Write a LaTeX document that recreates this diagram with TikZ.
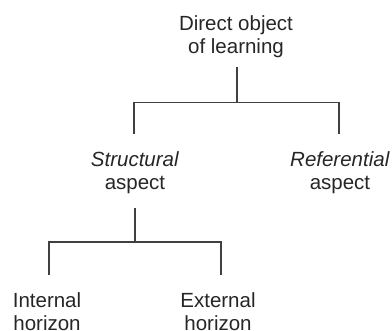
\documentclass[tikz,border=0pt]{standalone}
\usepackage{fontspec}
\setmainfont{Liberation Sans}
\begin{document}
\begin{tikzpicture}[x=1pt,y=-1pt,
  lbl/.style={align=center,anchor=base,inner sep=0pt,font=\fontsize{20.5}{23}\selectfont,text=black!85},
  conn/.style={draw=black!75,line width=1.4pt}]
\useasboundingbox (0,0) rectangle (392,331);
\clip (0,0) rectangle (392,331);
\node[lbl] (root) at (236,54) {Direct object\\of learning};
\node[lbl] (str) at (135,190) {\textit{Structural}\\aspect};
\node[lbl] (ref) at (340,190) {\textit{Referential}\\aspect};
\node[lbl] (int) at (47,331) {Internal\\horizon};
\node[lbl] (ext) at (218,331) {External\\horizon};
\coordinate (r0) at (237,67);
\coordinate (r1) at (237,102.5);
\coordinate (s0) at (135,208);
\coordinate (s1) at (135,242);
\draw[conn] (r0) -- (r1);
\draw[conn] (r1) -| (134,134) coordinate (strtop);
\draw[conn] (r1) -| (339,134) coordinate (reftop);
\draw[conn] (s0) -- (s1);
\draw[conn] (s1) -| (49,275) coordinate (inttop);
\draw[conn] (s1) -| (221,275) coordinate (exttop);
\end{tikzpicture}
\end{document}
